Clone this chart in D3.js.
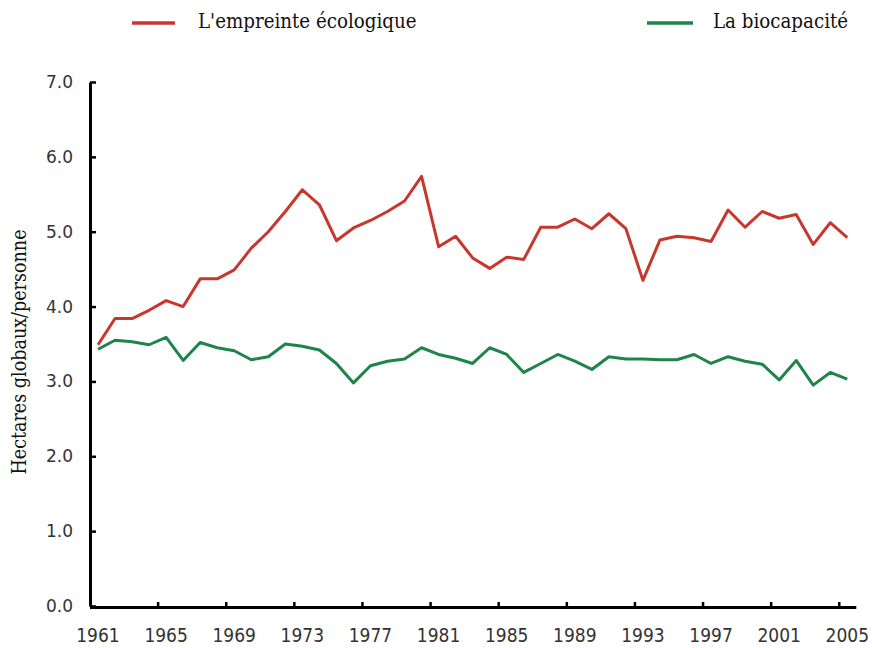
<!DOCTYPE html>
<html>
<head>
<meta charset="utf-8">
<script src="https://cdn.jsdelivr.net/npm/d3@7"></script>
<style>
  html, body { margin: 0; padding: 0; background: #fff; }
  svg { display: block; }
</style>
</head>
<body>
<svg id="chart" width="872" height="648"></svg>
<script>
const years = [1961,1962,1963,1964,1965,1966,1967,1968,1969,1970,
               1971,1972,1973,1974,1975,1976,1977,1978,1979,1980,
               1981,1982,1983,1984,1985,1986,1987,1988,1989,1990,
               1991,1992,1993,1994,1995,1996,1997,1998,1999,2000,
               2001,2002,2003,2004,2005];
const footprint = [3.49,3.84,3.84,3.95,4.08,4.00,4.37,4.37,4.49,4.78,
                   5.00,5.27,5.56,5.36,4.88,5.05,5.15,5.27,5.41,5.74,
                   4.80,4.94,4.65,4.51,4.66,4.63,5.06,5.06,5.17,5.04,
                   5.24,5.04,4.35,4.89,4.94,4.92,4.87,5.29,5.06,5.27,
                   5.18,5.23,4.83,5.12,4.92];
const biocapacity = [3.43,3.55,3.53,3.49,3.59,3.28,3.52,3.45,3.41,3.29,
                     3.33,3.50,3.47,3.42,3.24,2.98,3.21,3.27,3.30,3.45,
                     3.36,3.31,3.24,3.45,3.36,3.12,3.24,3.36,3.27,3.16,
                     3.33,3.30,3.30,3.29,3.29,3.36,3.24,3.33,3.27,3.23,
                     3.02,3.28,2.95,3.12,3.03];
const xTickLabels = ["1961","1965","1969","1973","1977","1981","1985","1989","1993","1997","2001","2005"];
const yTickValues = [0,1,2,3,4,5,6,7];
const seriesNames = ["L'empreinte écologique", "La biocapacité"];
const yTitle = "Hectares globaux/personne";

const RED = "#c8372d";
const GREEN = "#1e8449";

const svg = d3.select("#chart");

const x = d3.scaleLinear().domain([1960.5, 2005.5]).range([89.5, 855.8]);
const y = d3.scaleLinear().domain([0, 7]).range([606, 82]);

// X axis: ticks at category boundaries every 4 years, no labels
const boundaries = d3.range(1964.5, 2005, 4);
const xAxis = d3.axisBottom(x).tickValues(boundaries).tickSizeInner(-5).tickSizeOuter(0).tickFormat("");
const gx = svg.append("g").attr("transform", "translate(0,607)").call(xAxis);
gx.select(".domain").attr("stroke", "#000").attr("stroke-width", 3);
gx.selectAll(".tick line").attr("stroke", "#000").attr("stroke-width", 2.5);

// X labels centred on category
svg.append("g").selectAll("text").data(xTickLabels).join("text")
  .attr("x", d => x(+d))
  .attr("y", 642)
  .attr("text-anchor", "middle")
  .attr("font-family", "'DejaVu Sans Condensed', 'DejaVu Sans', sans-serif")
  .attr("font-stretch", "condensed")
  .attr("font-size", 19)
  .attr("fill", "#333")
  .text(d => d);

// Y axis
const yAxis = d3.axisLeft(y).tickValues(yTickValues).tickSizeInner(-6).tickSizeOuter(0)
  .tickPadding(17).tickFormat(d3.format(".1f"));
const gy = svg.append("g").attr("transform", "translate(90,0)").call(yAxis);
gy.select(".domain").attr("stroke", "#000").attr("stroke-width", 3);
gy.selectAll(".tick line").attr("stroke", "#000").attr("stroke-width", 2.5);
gy.selectAll(".tick text")
  .attr("font-family", "'DejaVu Sans', sans-serif")
  .attr("font-size", 17)
  .attr("fill", "#333");

// Y title
svg.append("text")
  .attr("transform", "translate(26,352) rotate(-90)")
  .attr("text-anchor", "middle")
  .attr("font-family", "'DejaVu Serif Condensed', 'DejaVu Serif', serif")
  .attr("font-stretch", "condensed")
  .attr("font-size", 19.5)
  .attr("fill", "#111")
  .text(yTitle);

// Lines
const line = d3.line().x((d, i) => x(years[i])).y(d => y(d));
svg.append("path").datum(footprint)
  .attr("fill", "none").attr("stroke", RED).attr("stroke-width", 3)
  .attr("stroke-linejoin", "round").attr("d", line);
svg.append("path").datum(biocapacity)
  .attr("fill", "none").attr("stroke", GREEN).attr("stroke-width", 3)
  .attr("stroke-linejoin", "round").attr("d", line);

// Legend
const legendItems = [
  {name: seriesNames[0], color: RED, x1: 132, x2: 175, tx: 198},
  {name: seriesNames[1], color: GREEN, x1: 647, x2: 693, tx: 713}
];
const lg = svg.append("g");
legendItems.forEach(it => {
  lg.append("line").attr("x1", it.x1).attr("x2", it.x2).attr("y1", 23).attr("y2", 23)
    .attr("stroke", it.color).attr("stroke-width", 3.5);
  lg.append("text").attr("x", it.tx).attr("y", 28)
    .attr("font-family", "'DejaVu Serif Condensed', 'DejaVu Serif', serif")
    .attr("font-stretch", "condensed")
    .attr("font-size", 20.3)
    .attr("fill", "#111")
    .text(it.name);
});
</script>
</body>
</html>
